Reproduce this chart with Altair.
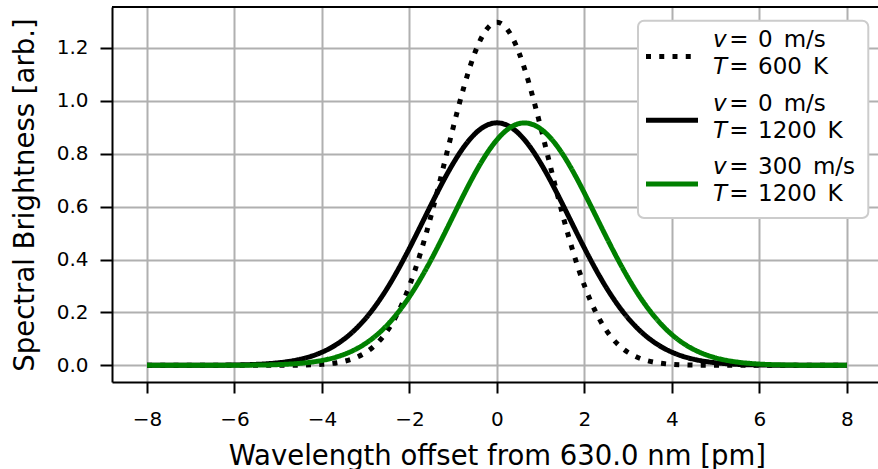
import altair as alt
import pandas as pd

# Wavelength offsets [pm]
x_pm = [-8.0, -7.5, -7.0, -6.5, -6.0, -5.5, -5.0, -4.5, -4.0, -3.5, -3.0, -2.5, -2.0, -1.5, -1.0, -0.5,
        0.0, 0.5, 1.0, 1.5, 2.0, 2.5, 3.0, 3.5, 4.0, 4.5, 5.0, 5.5, 6.0, 6.5, 7.0, 7.5, 8.0]

# v = 0 m/s, T = 600 K (dotted black)
y_v0_t600 = [0.0, 0.0, 0.0, 0.0, 0.0, 0.0, 0.0001, 0.0008, 0.0038, 0.0148, 0.0485, 0.132, 0.301, 0.570, 0.900, 1.184,
             1.297, 1.184, 0.900, 0.570, 0.301, 0.132, 0.0485, 0.0148, 0.0038, 0.0008, 0.0001, 0.0, 0.0, 0.0, 0.0, 0.0, 0.0]

# v = 0 m/s, T = 1200 K (solid black)
y_v0_t1200 = [0.0, 0.0, 0.0001, 0.0004, 0.0013, 0.0037, 0.0097, 0.0229, 0.0497, 0.0985, 0.178, 0.294, 0.443, 0.609, 0.764, 0.876,
              0.917, 0.876, 0.764, 0.609, 0.443, 0.294, 0.178, 0.0985, 0.0497, 0.0229, 0.0097, 0.0037, 0.0013, 0.0004, 0.0001, 0.0, 0.0]

# v = 300 m/s, T = 1200 K (solid green)
y_v300_t1200 = [0.0, 0.0, 0.0, 0.0001, 0.0003, 0.0010, 0.0028, 0.0076, 0.0185, 0.0410, 0.0832, 0.154, 0.260, 0.401, 0.565, 0.727,
                0.853, 0.914, 0.894, 0.799, 0.651, 0.485, 0.330, 0.205, 0.116, 0.0599, 0.0283, 0.0122, 0.0048, 0.0017, 0.0006, 0.0002, 0.0]

series_names = ["v=0, T=600", "v=0, T=1200", "v=300, T=1200"]
series_colors = ["black", "black", "#008000"]
series_dashes = [[5, 8.25], [1, 0], [1, 0]]

# legend text: (italic symbol, value, unit)
legend_line1 = [("v", "0", "m/s"), ("v", "0", "m/s"), ("v", "300", "m/s")]
legend_line2 = [("T", "600", "K"), ("T", "1200", "K"), ("T", "1200", "K")]

x_ticks = [-8, -6, -4, -2, 0, 2, 4, 6, 8]
y_ticks = [0.0, 0.2, 0.4, 0.6, 0.8, 1.0, 1.2]

rows = []
for name, ys in zip(series_names, [y_v0_t600, y_v0_t1200, y_v300_t1200]):
    for xv, yv in zip(x_pm, ys):
        rows.append({"x": xv, "y": yv, "series": name})
df = pd.DataFrame(rows)

FONT = "DejaVu Sans"
W, H = 766, 375
LW = 5

lines = alt.Chart(df).mark_line(strokeWidth=LW, interpolate="natural", clip=True, strokeCap="butt").encode(
    x=alt.X("x:Q",
            scale=alt.Scale(domain=[-8.8, 8.71], nice=False, zero=False),
            axis=alt.Axis(values=x_ticks, title="Wavelength offset from 630.0 nm [pm]",
                          labelExpr="replace(datum.label, '-', '\u2212')",
                          tickSize=11, tickWidth=2, tickColor="black",
                          domainColor="black", domainWidth=2,
                          gridColor="#b0b0b0", gridWidth=2,
                          labelFont=FONT, labelFontSize=20, labelColor="black",
                          labelBaseline="alphabetic", labelPadding=32, labelFlush=False,
                          titleFont=FONT, titleFontSize=27.5, titleFontWeight="normal", titleColor="black",
                          titleBaseline="alphabetic", titleX=384.8, titleY=82, titleAlign="center")),
    y=alt.Y("y:Q",
            scale=alt.Scale(domain=[-0.063, 1.355], nice=False, zero=False),
            axis=alt.Axis(values=y_ticks, format=".1f", title="Spectral Brightness [arb.]",
                          tickSize=12, tickWidth=2, tickColor="black",
                          domainColor="black", domainWidth=2,
                          gridColor="#b0b0b0", gridWidth=2,
                          labelFont=FONT, labelFontSize=20, labelColor="black",
                          labelPadding=12, labelFlush=False,
                          titleFont=FONT, titleFontSize=27.5, titleFontWeight="normal", titleColor="black",
                          titleBaseline="alphabetic", titleX=-79, titleY=H / 2, titleAngle=-90, titleAlign="center")),
    color=alt.Color("series:N", scale=alt.Scale(domain=series_names, range=series_colors), legend=None),
    strokeDash=alt.StrokeDash("series:N", scale=alt.Scale(domain=series_names, range=series_dashes), legend=None),
)

one = pd.DataFrame({"a": [0]})

top_spine = alt.Chart(one).mark_rule(color="black", strokeWidth=2).encode(
    x=alt.value(0), x2=alt.value(W), y=alt.value(0)
)

# ---- legend (drawn by hand to get two-line, partly italic labels) ----
LEG_X0, LEG_X1, LEG_Y0, LEG_Y1 = 526, 756.3, 13.7, 211
SYM_X0, SYM_X1 = 534, 586
ROW_BASE = [39.7, 103.6, 167.2]
LINE_GAP = 27
SYM_DY = 9.7
LEG_FS = 23
LETTER_X, EQ_CX, VAL_X = 601, 627, 646
DIGIT_W = 0.636 * LEG_FS
UNIT_GAP = 11

layers = [lines, top_spine]
layers.append(
    alt.Chart(one).mark_rect(fill="white", stroke="#cccccc", strokeWidth=2, cornerRadius=6).encode(
        x=alt.value(LEG_X0), x2=alt.value(LEG_X1), y=alt.value(LEG_Y0), y2=alt.value(LEG_Y1)
    )
)


def txt(s, x, y, italic=False, align="left", size=LEG_FS):
    kw = dict(text=s, align=align, baseline="alphabetic", font=FONT, fontSize=size, color="black")
    if italic:
        kw["fontStyle"] = "italic"
    return alt.Chart(one).mark_text(**kw).encode(x=alt.value(x), y=alt.value(y))


for i in range(3):
    yb = ROW_BASE[i]
    layers.append(
        alt.Chart(one).mark_rule(color=series_colors[i], strokeWidth=LW, strokeDash=series_dashes[i],
                                 strokeCap="butt").encode(
            x=alt.value(SYM_X0), x2=alt.value(SYM_X1), y=alt.value(yb + SYM_DY)
        )
    )
    for (sym, val, unit), y in [(legend_line1[i], yb), (legend_line2[i], yb + LINE_GAP)]:
        layers.append(txt(sym, LETTER_X, y, italic=True))
        layers.append(txt("=", EQ_CX, y, align="center"))
        layers.append(txt(val, VAL_X, y))
        layers.append(txt(unit, VAL_X + DIGIT_W * len(val) + UNIT_GAP, y))

chart = alt.layer(*layers).properties(
    width=W, height=H,
    autosize=alt.AutoSizeParams(type="none"),
    padding={"left": 112, "top": 7, "right": 0, "bottom": 87},
).configure(
    background="white",
    view=alt.ViewConfig(stroke="transparent"),
)

chart.save("out.html", embed_options={"renderer": "svg", "actions": False})
